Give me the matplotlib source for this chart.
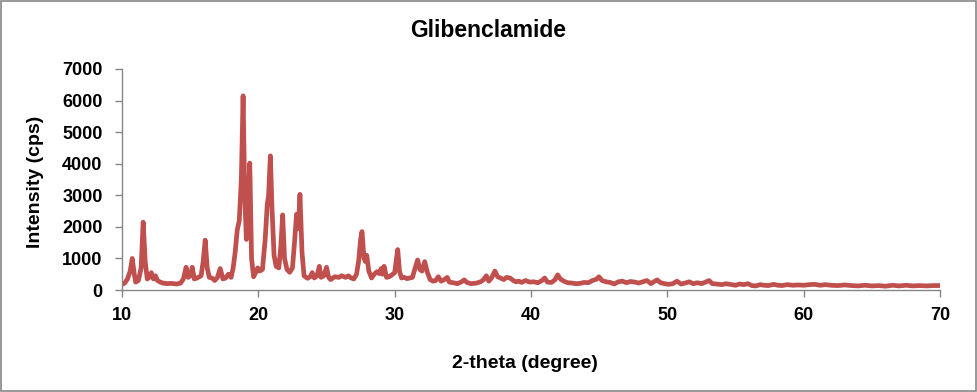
import matplotlib
matplotlib.use("Agg")
import matplotlib.pyplot as plt
from matplotlib.patches import Rectangle

# XRD pattern
two_theta = [
    10.0, 10.2, 10.4, 10.6, 10.75, 10.9, 11.0, 11.2, 11.4, 11.55, 11.7, 11.85,
    12.0, 12.15, 12.3, 12.45, 12.6, 12.8, 13.0, 13.3, 13.6, 14.0, 14.3, 14.5,
    14.7, 14.85, 15.0, 15.15, 15.3, 15.5, 15.8, 15.95, 16.1, 16.25, 16.4, 16.6,
    16.8, 17.0, 17.2, 17.4, 17.6, 17.8, 18.0, 18.15, 18.3, 18.45, 18.6, 18.75,
    18.88, 19.0, 19.12, 19.25, 19.37, 19.5, 19.65, 19.8, 19.95, 20.1, 20.3, 20.5,
    20.65, 20.75, 20.88, 21.0, 21.15, 21.3, 21.5, 21.65, 21.78, 21.92, 22.1, 22.3,
    22.5, 22.65, 22.8, 22.93, 23.05, 23.2, 23.35, 23.6, 23.8, 23.95, 24.1, 24.3,
    24.47, 24.6, 24.8, 25.0, 25.15, 25.3, 25.6, 25.9, 26.1, 26.4, 26.6, 26.8,
    27.0, 27.2, 27.35, 27.5, 27.6, 27.75, 27.85, 27.95, 28.1, 28.3, 28.5, 28.7,
    28.85, 29.0, 29.1, 29.22, 29.4, 29.6, 29.8, 30.0, 30.1, 30.22, 30.35, 30.5,
    30.7, 30.9, 31.1, 31.3, 31.5, 31.68, 31.85, 32.0, 32.2, 32.4, 32.6, 32.8,
    33.0, 33.2, 33.4, 33.6, 33.85, 34.0, 34.3, 34.6, 34.9, 35.1, 35.3, 35.6,
    36.0, 36.3, 36.5, 36.72, 36.9, 37.1, 37.35, 37.55, 37.75, 38.0, 38.2, 38.45,
    38.7, 38.9, 39.1, 39.3, 39.6, 39.9, 40.2, 40.5, 40.8, 41.0, 41.2, 41.5,
    41.75, 41.95, 42.15, 42.4, 42.7, 43.0, 43.3, 43.6, 43.9, 44.2, 44.5, 44.8,
    44.98, 45.2, 45.5, 45.8, 46.1, 46.4, 46.7, 47.0, 47.3, 47.6, 47.9, 48.2,
    48.5, 48.8, 49.0, 49.25, 49.5, 49.8, 50.1, 50.4, 50.7, 51.0, 51.3, 51.6,
    51.9, 52.2, 52.5, 52.8, 53.05, 53.3, 53.6, 54.0, 54.3, 54.7, 55.0, 55.3,
    55.6, 55.9, 56.2, 56.5, 56.8, 57.1, 57.4, 57.8, 58.1, 58.4, 58.8, 59.2,
    59.6, 60.0, 60.4, 60.8, 61.2, 61.6, 62.0, 62.5, 63.0, 63.5, 64.0, 64.5,
    65.0, 65.5, 66.0, 66.5, 67.0, 67.5, 68.0, 68.5, 69.0, 69.5, 70.0,
]
intensity = [
    180, 220, 350, 600, 1000, 500, 250, 300, 700, 2150, 900, 350,
    400, 550, 350, 450, 300, 250, 220, 200, 210, 190, 220, 350,
    720, 400, 450, 720, 350, 380, 450, 900, 1580, 700, 400, 380,
    300, 400, 680, 350, 380, 500, 400, 700, 1200, 1900, 2200, 3500,
    6150, 3000, 1600, 2800, 4020, 1000, 420, 550, 700, 600, 650, 1600,
    2700, 3000, 4250, 2600, 1100, 750, 700, 1400, 2380, 1000, 650, 560,
    700, 1500, 2400, 1950, 3030, 1200, 450, 370, 420, 550, 380, 450,
    750, 400, 450, 720, 400, 330, 420, 400, 450, 400, 450, 380,
    350, 500, 900, 1600, 1850, 1000, 900, 1100, 600, 380, 500, 580,
    520, 680, 500, 750, 400, 420, 480, 550, 900, 1280, 600, 380,
    400, 360, 380, 400, 700, 950, 650, 600, 900, 550, 330, 280,
    300, 420, 280, 320, 400, 250, 230, 200, 260, 320, 240, 200,
    220, 260, 320, 450, 280, 380, 600, 420, 380, 330, 400, 380,
    300, 260, 280, 240, 300, 250, 260, 230, 300, 380, 250, 240,
    320, 480, 350, 280, 230, 220, 200, 210, 240, 230, 300, 340,
    420, 300, 260, 240, 190, 260, 280, 230, 270, 250, 220, 260,
    300, 200, 260, 320, 230, 200, 180, 200, 280, 190, 220, 260,
    200, 230, 200, 250, 300, 200, 190, 170, 200, 170, 150, 190,
    170, 200, 140, 130, 170, 150, 140, 180, 150, 140, 170, 150,
    160, 150, 170, 180, 150, 170, 150, 140, 160, 140, 130, 150,
    130, 140, 120, 150, 130, 150, 130, 140, 130, 140, 140,
]

x_ticks = [10, 20, 30, 40, 50, 60, 70]
y_ticks = [0, 1000, 2000, 3000, 4000, 5000, 6000, 7000]

plt.rcParams['font.family'] = ['Liberation Sans', 'DejaVu Sans']
axis_grey = '#868686'

fig = plt.figure(figsize=(9.77, 3.92), dpi=100)
ax = fig.add_axes([0.1249, 0.2602, 0.8373, 0.5638])

ax.plot(two_theta, intensity, color='#C0504D', linewidth=3.4, solid_joinstyle='round')

ax.set_xlim(10, 70)
ax.set_ylim(0, 7000)
ax.set_xticks(x_ticks)
ax.set_yticks(y_ticks)
ax.tick_params(axis='both', colors=axis_grey, labelcolor='black', labelsize=13,
               length=5, width=1, direction='out')
ax.tick_params(axis='y', pad=9)
ax.tick_params(axis='x', pad=7)
for lab in ax.get_xticklabels() + ax.get_yticklabels():
    lab.set_fontweight('bold')

for side in ['top', 'right']:
    ax.spines[side].set_visible(False)
for side in ['left', 'bottom']:
    ax.spines[side].set_color(axis_grey)
    ax.spines[side].set_linewidth(1)

fig.text(0.4995, 0.923, 'Glibenclamide', ha='center', va='center',
         fontsize=16.5, fontweight='bold')
fig.text(0.5373, 0.072, '2-theta (degree)', ha='center', va='center',
         fontsize=14, fontweight='bold')
fig.text(0.036, 0.536, 'Intensity (cps)', ha='center', va='center',
         rotation=90, fontsize=14, fontweight='bold')

# thin grey frame round the whole chart
fig.patches.append(Rectangle((0.0008, 0.002), 0.9984, 0.996, transform=fig.transFigure,
                             fill=False, edgecolor=axis_grey, linewidth=1.2))

fig.savefig('out.png', dpi=100)
